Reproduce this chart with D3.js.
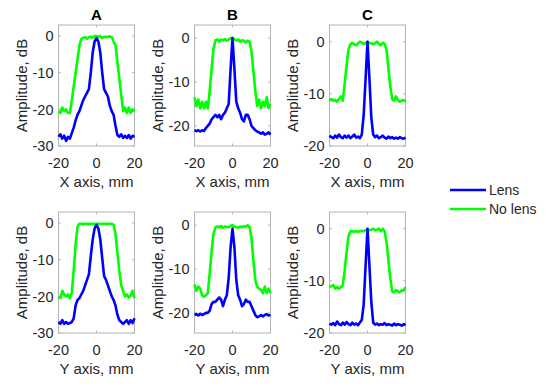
<!DOCTYPE html>
<html>
<head>
<meta charset="utf-8">
<script src="https://cdn.jsdelivr.net/npm/d3@7"></script>
<style>
  body { margin: 0; background: #fff; }
  svg { display: block; font-family: "Liberation Sans", Arial, sans-serif; }
</style>
</head>
<body>
<div id="chart"></div>
<script>
// position grid, mm
const xs = [-20,-19,-18,-17,-16,-15,-14,-13,-12,-11,-10,-9,-8,-7,-6,-5,-4,-3,-2,-1,0,1,2,3,4,5,6,7,8,9,10,11,12,13,14,15,16,17,18,19,20];

// column A
const lensAX   = [-27.5,-26.8,-28,-27.2,-28.6,-27.5,-28,-26.5,-25,-23,-21.5,-20.5,-19,-17.5,-16.5,-15.5,-14.5,-10,-4.5,-1.5,-0.6,-1.5,-4.5,-10,-14.5,-15.5,-16.5,-19,-20.5,-21.5,-24.5,-27,-27.5,-26.8,-27.8,-27.2,-27.8,-27,-28,-27.2,-27.5];
const noLensAX = [-20.5,-21,-19.5,-20.5,-20,-21,-21,-17.6,-13.9,-10.1,-6.4,-2.6,-0.8,-0.5,-0.3,-0.8,-0.3,-0.2,-0.5,0,0,-0.3,0,-0.6,-0.2,-0.3,-0.2,-0.1,-0.3,-1.5,-2.5,-7,-11.5,-16,-20.5,-19.5,-21,-19.5,-21,-20,-20.5];
const lensAY   = [-27,-27.5,-26.5,-27.5,-27,-27.5,-27.3,-27,-26,-22.5,-21,-20.5,-19.5,-18.5,-17,-15.5,-14,-9,-4.5,-1.5,-0.5,-1.5,-4.5,-9.5,-14.5,-15.5,-17,-18.5,-20,-21,-22.5,-25,-26.5,-27,-27.5,-27,-26.5,-27.5,-26.5,-27.3,-26];
const noLensAY = [-20,-20.5,-18.5,-19.5,-20,-19.5,-20.5,-19,-13,-6,-1,-0.2,-0.2,-0.3,-0.2,-0.2,-0.3,-0.2,-0.2,-0.3,-0.2,-0.2,-0.3,-0.2,-0.2,-0.3,-0.2,-0.2,-0.2,-0.5,-3,-8,-13,-17,-18.5,-20,-19.5,-20.3,-19.8,-18.5,-20.5];

// column B
const lensBX   = [-21,-21.2,-21,-21.3,-21,-21.2,-20.5,-20,-19.5,-18.5,-18,-17.5,-18,-17.5,-18.5,-17.5,-17,-16,-15,-7,0,-7,-14.5,-16,-17,-18.5,-19,-17.5,-17.5,-18.5,-20,-20.5,-21,-21.3,-21.5,-21.8,-21.5,-22,-21.8,-21.5,-22];
const noLensBX = [-13.5,-15.5,-14,-16,-14.5,-16,-14.5,-16,-12,-7,-2.5,-0.5,-0.3,-0.8,-0.3,-0.5,-0.2,-0.6,-0.3,0,0,-0.3,-0.5,-0.3,-0.8,-0.5,-0.6,-1,-0.6,-0.8,-3,-7.5,-12,-15.5,-14,-16,-14.5,-15.5,-13.5,-16,-15];
const lensBY   = [-20.5,-20.3,-20.6,-20.2,-20.5,-20.3,-20,-20,-19.5,-18,-17.5,-17.5,-17,-16.5,-17,-18.5,-17,-16,-12,-5,-0.8,-5,-12.5,-16,-17,-18.5,-18,-17,-17.5,-17.5,-18.5,-19.5,-20.5,-21,-20.8,-20.5,-20.8,-20.5,-20.3,-20.6,-20.5];
const noLensBY = [-13.5,-15,-14,-14.5,-16,-16.3,-16,-15.5,-11,-6,-2,-0.5,-0.3,-0.5,-0.2,-0.6,-0.3,-0.4,-0.5,-0.2,0,-0.3,-0.5,-0.6,-0.3,-0.5,-0.2,-0.4,0,-0.5,-3,-8,-12.5,-14,-14.5,-14.8,-15.5,-14,-15.5,-14.5,-15.5];

// column C
const lensCX   = [-18,-18.3,-18.5,-18,-18.4,-17.8,-18.3,-18.5,-18,-18.4,-18,-18.5,-18.2,-17.8,-18.4,-18.2,-18.5,-17.8,-14,-7,0,-7,-14.5,-17.8,-18.3,-18,-18.5,-18.3,-18,-18.4,-18.6,-18.2,-18.5,-18.3,-18.6,-18.4,-18.6,-18.3,-18.5,-18.6,-18.4];
const noLensCX = [-11.3,-11,-11.3,-11.2,-11.5,-11,-10.5,-11.3,-8,-4.5,-1.5,-0.5,-0.2,-0.5,-0.7,-0.3,0,-0.2,-0.4,-0.3,0,-0.3,-0.3,-0.5,-0.3,0,-0.4,-0.7,-0.2,-0.4,-1.5,-5,-8.5,-11,-11.3,-10.5,-11.2,-11.5,-11.3,-11.2,-11.5];
const lensCY   = [-18.2,-18.4,-18.1,-18.5,-17.8,-18.3,-18.5,-18,-18.4,-17.9,-18.3,-18.5,-18,-18.4,-18.2,-18.5,-18,-17.5,-14.5,-7,0,-7,-14,-18,-18.4,-18.2,-18.5,-18.3,-18.4,-18.1,-18.5,-18.3,-18.4,-18.6,-18.2,-18.5,-18.3,-18.4,-18.6,-18.3,-18.5];
const noLensCY = [-11.2,-11,-10.8,-11.5,-11.2,-11.5,-11.2,-10.8,-8,-4.5,-1.5,-0.5,-0.5,-0.6,-0.5,-0.6,-0.5,-0.4,-0.5,-0.3,-0.2,-0.3,-0.2,0,-0.3,-0.2,0,-0.5,0,-0.5,-2.5,-6,-9.5,-12,-12.2,-11.8,-12,-12.2,-11.8,-11.9,-11.2];

const titles = ['A', 'B', 'C'];
const xTicks = [-20, 0, 20];
const yLimits = [[-30, 3], [-24.6, 3], [-20, 3.2]];
const yTicks = [[-30, -20, -10, 0], [-20, -10, 0], [-20, -10, 0]];
const rowLabels = ['X axis, mm', 'Y axis, mm'];
const legendNames = ['Lens', 'No lens'];

const lensData = [[lensAX, lensBX, lensCX], [lensAY, lensBY, lensCY]];
const noLensData = [[noLensAX, noLensBX, noLensCX], [noLensAY, noLensBY, noLensCY]];

const W = 550, H = 387;
const colLeft = [58.5, 194.5, 329.5];
const boxW = 76;
const rowTop = [25, 212];
const boxH = 121;
const colors = { lens: '#0000ff', noLens: '#00ff00' };
const textColor = '#262626';

const svg = d3.select('#chart').append('svg')
    .attr('width', W)
    .attr('height', H);

rowTop.forEach((top, r) => {
    colLeft.forEach((left, c) => {
        const x = d3.scaleLinear().domain([-20, 20]).range([left, left + boxW]);
        const y = d3.scaleLinear().domain(yLimits[c]).range([top + boxH, top]);
        const g = svg.append('g');

        // plot box
        g.append('rect')
            .attr('x', left).attr('y', top)
            .attr('width', boxW).attr('height', boxH)
            .attr('fill', '#fff')
            .attr('stroke', '#b3b3b3')
            .attr('stroke-width', 1);

        // inward ticks on all four sides
        const tickLen = 2.5;
        xTicks.forEach(t => {
            g.append('line')
                .attr('x1', x(t)).attr('x2', x(t))
                .attr('y1', top + boxH).attr('y2', top + boxH - tickLen)
                .attr('stroke', '#b3b3b3');
            g.append('line')
                .attr('x1', x(t)).attr('x2', x(t))
                .attr('y1', top).attr('y2', top + tickLen)
                .attr('stroke', '#b3b3b3');
            g.append('text')
                .attr('x', x(t)).attr('y', top + boxH + 22)
                .attr('text-anchor', 'middle')
                .attr('font-size', '14.5px')
                .attr('fill', textColor)
                .text(t);
        });
        yTicks[c].forEach(t => {
            g.append('line')
                .attr('x1', left).attr('x2', left + tickLen)
                .attr('y1', y(t)).attr('y2', y(t))
                .attr('stroke', '#b3b3b3');
            g.append('line')
                .attr('x1', left + boxW).attr('x2', left + boxW - tickLen)
                .attr('y1', y(t)).attr('y2', y(t))
                .attr('stroke', '#b3b3b3');
            g.append('text')
                .attr('x', left - 5).attr('y', y(t))
                .attr('dy', '0.36em')
                .attr('text-anchor', 'end')
                .attr('font-size', '14.5px')
                .attr('fill', textColor)
                .text(t);
        });

        const line = d3.line()
            .x((d, i) => x(xs[i]))
            .y(d => y(d));

        g.append('path')
            .datum(noLensData[r][c])
            .attr('d', line)
            .attr('fill', 'none')
            .attr('stroke', colors.noLens)
            .attr('stroke-width', 2.6)
            .attr('stroke-linejoin', 'round');

        g.append('path')
            .datum(lensData[r][c])
            .attr('d', line)
            .attr('fill', 'none')
            .attr('stroke', colors.lens)
            .attr('stroke-width', 2.6)
            .attr('stroke-linejoin', 'round');

        // axis labels
        g.append('text')
            .attr('x', left + boxW / 2).attr('y', top + boxH + 41)
            .attr('text-anchor', 'middle')
            .attr('font-size', '15px')
            .attr('fill', textColor)
            .text(rowLabels[r]);

        const ylx = left - 32;
        g.append('text')
            .attr('transform', `translate(${ylx},${top + boxH / 2}) rotate(-90)`)
            .attr('text-anchor', 'middle')
            .attr('font-size', '15px')
            .attr('fill', textColor)
            .text('Amplitude, dB');

        if (r === 0) {
            g.append('text')
                .attr('x', left + boxW / 2).attr('y', top - 5)
                .attr('text-anchor', 'middle')
                .attr('font-size', '15px')
                .attr('font-weight', 'bold')
                .attr('fill', '#000')
                .text(titles[c]);
        }
    });
});

// legend
const legend = svg.append('g').attr('transform', 'translate(450,190)');
[colors.lens, colors.noLens].forEach((col, i) => {
    legend.append('line')
        .attr('x1', 0).attr('x2', 36)
        .attr('y1', i * 19).attr('y2', i * 19)
        .attr('stroke', col)
        .attr('stroke-width', 2.6);
    legend.append('text')
        .attr('x', 39).attr('y', i * 19)
        .attr('dy', '0.36em')
        .attr('font-size', '14px')
        .attr('fill', textColor)
        .text(legendNames[i]);
});
</script>
</body>
</html>
